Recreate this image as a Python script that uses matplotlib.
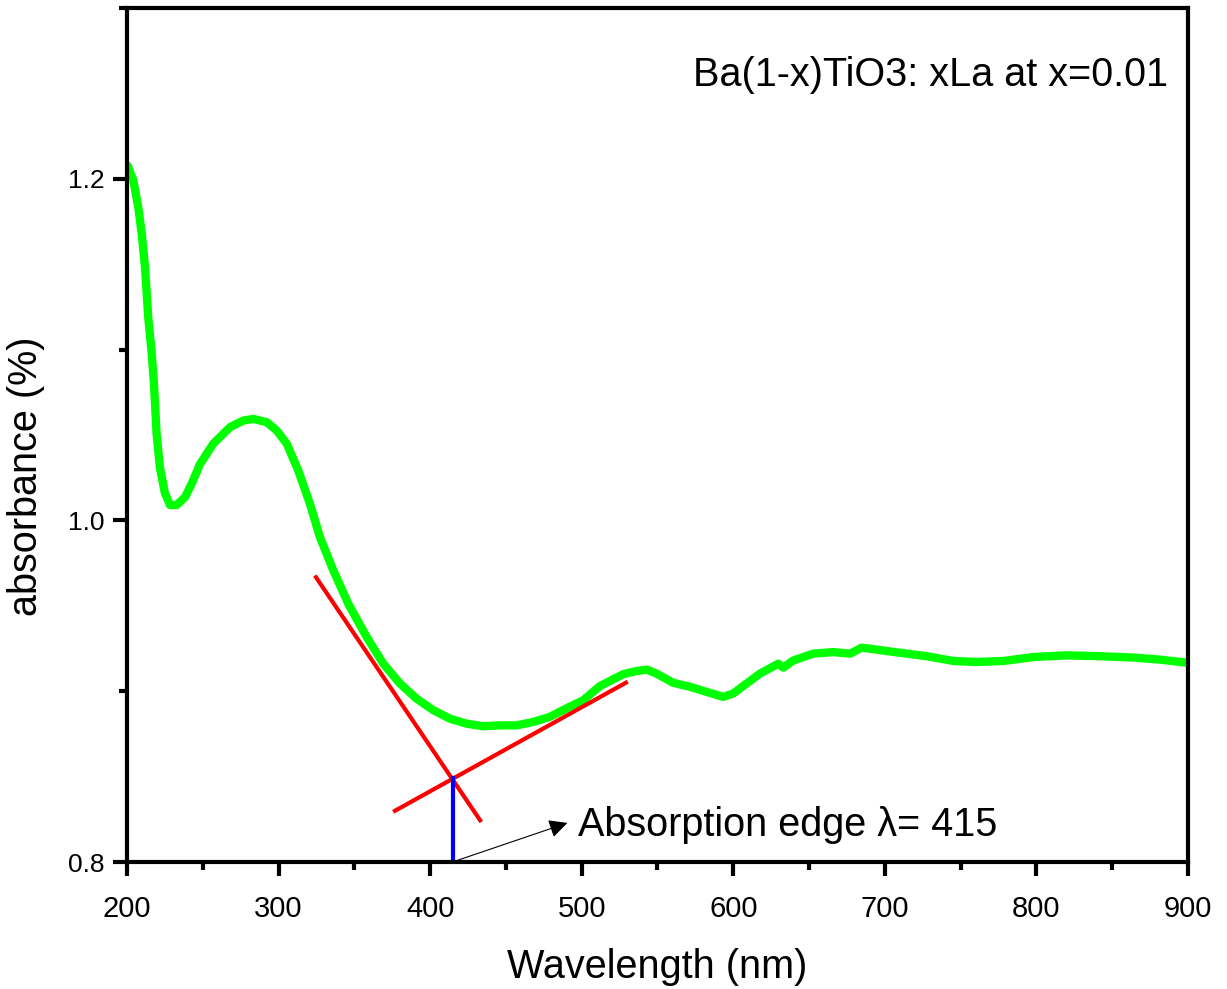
import matplotlib
matplotlib.use("Agg")
import matplotlib.pyplot as plt
from matplotlib.ticker import MultipleLocator

plt.rcParams["font.family"] = ["Liberation Sans", "DejaVu Sans"]

# ── Данные: спектр поглощения ────────────────────────────────────────────────
wavelength = [200.5, 204.2, 207.5, 209.7, 211.9, 214.0, 216.2, 217.8, 219.5,
              221.7, 225.0, 228.4, 232.8, 238.3, 242.7, 248.2, 257.0, 268.0,
              276.8, 283.4, 292.2, 298.8, 305.4, 313.0, 320.7, 327.3, 336.1,
              346.0, 358.1, 369.1, 380.1, 391.1, 402.1, 413.1, 424.0, 435.0,
              446.0, 457.1, 468.0, 479.0, 490.0, 501.0, 512.0, 527.5, 536.0,
              543.0, 549.4, 560.4, 571.4, 582.4, 593.4, 600.0, 608.8, 617.6,
              629.7, 633.0, 639.6, 652.8, 666.0, 677.2, 684.7, 690.0, 705.6,
              727.6, 745.2, 760.6, 778.2, 798.0, 820.0, 842.0, 864.0, 881.5,
              899.0]
absorbance = [1.2076, 1.199, 1.183, 1.168, 1.148, 1.119, 1.099, 1.080, 1.051,
              1.031, 1.016, 1.009, 1.009, 1.0136, 1.0216, 1.033, 1.045, 1.0546,
              1.0585, 1.0594, 1.0575, 1.0526, 1.0449, 1.0292, 1.0097, 0.9902,
              0.9708, 0.9512, 0.9318, 0.9161, 0.9045, 0.8956, 0.8889, 0.8839,
              0.881, 0.8795, 0.880, 0.880, 0.882, 0.885, 0.890, 0.8947, 0.9030,
              0.9100, 0.9118, 0.9126, 0.9103, 0.9049, 0.9026, 0.8996, 0.8967,
              0.8987, 0.9045, 0.9103, 0.9161, 0.9138, 0.918, 0.922, 0.9229,
              0.922, 0.9255, 0.9249, 0.923, 0.9205, 0.9177, 0.9171, 0.9177,
              0.920, 0.921, 0.9205, 0.9197, 0.9185, 0.9167]

# касательные (экстраполяция края поглощения)
tangent1_x = [324.7, 433.0]
tangent1_y = [0.9667, 0.8244]
tangent2_x = [376.8, 529.2]
tangent2_y = [0.8300, 0.9050]
edge_x = [415, 415]
edge_y = [0.8, 0.849]
EDGE_LAMBDA = 415

fig = plt.figure(figsize=(12.27, 9.89), dpi=100)
ax = fig.add_axes([0.1035, 0.1284, 0.8647, 0.8635])

ax.plot(wavelength, absorbance, color="#00ff00", lw=6,
        solid_capstyle="round", solid_joinstyle="round")
ax.plot(tangent1_x, tangent1_y, color="#ff0000", lw=3)
ax.plot(tangent2_x, tangent2_y, color="#ff0000", lw=3)
ax.plot(edge_x, edge_y, color="#0000ff", lw=3)

ax.annotate("", xy=(492.3, 0.8234), xytext=(416.4, 0.8005),
            arrowprops=dict(arrowstyle="-|>", color="black", lw=0.8,
                            mutation_scale=28))
ax.text(497.6, 0.8215, f"Absorption edge λ= {EDGE_LAMBDA}", fontsize=28.5,
        va="center", ha="left")
ax.text(887, 1.261, "Ba(1-x)TiO3: xLa at x=0.01", fontsize=28.5,
        va="center", ha="right")

ax.set_xlim(200, 900)
ax.set_ylim(0.8, 1.3)
ax.xaxis.set_major_locator(MultipleLocator(100))
ax.xaxis.set_minor_locator(MultipleLocator(50))
ax.yaxis.set_major_locator(MultipleLocator(0.2))
ax.yaxis.set_minor_locator(MultipleLocator(0.1))
ax.yaxis.set_major_formatter(plt.FormatStrFormatter("%.1f"))

ax.tick_params(which="both", direction="out", width=3)
ax.tick_params(which="major", length=10)
ax.tick_params(which="minor", length=6)
ax.tick_params(axis="x", pad=14, labelsize=21)
ax.tick_params(axis="y", pad=6, labelsize=19)
for s in ax.spines.values():
    s.set_linewidth(3)

ax.set_xlabel("Wavelength (nm)", fontsize=28.5, labelpad=18)
ax.set_ylabel("absorbance (%)", fontsize=28.5)
ax.yaxis.set_label_coords(-0.077, 0.452)

fig.savefig("out.png", dpi=100)
